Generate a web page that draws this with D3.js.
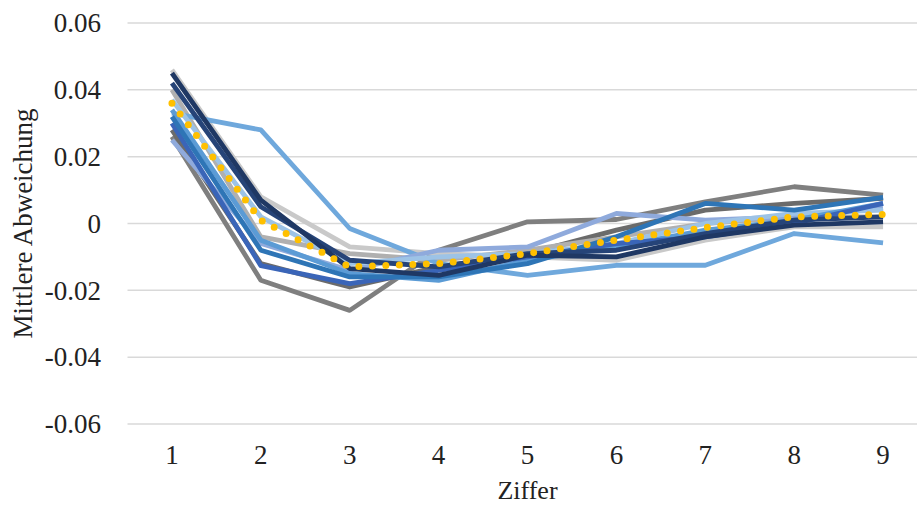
<!DOCTYPE html>
<html>
<head>
<meta charset="utf-8">
<script src="https://cdn.jsdelivr.net/npm/d3@7"></script>
<style>
  html, body { margin: 0; padding: 0; background: #fff; }
  svg { display: block; }
  text { font-family: "Liberation Serif", "Times New Roman", serif; fill: #222; }
</style>
</head>
<body>
<svg id="chart" width="917" height="506"></svg>
<script>
// Digits on the x axis
const digits = [1, 2, 3, 4, 5, 6, 7, 8, 9];

// y-axis ticks
const yTicks = [-0.06, -0.04, -0.02, 0, 0.02, 0.04, 0.06];

// Mean deviation per digit for each sample
const sNavyA   = [0.045, 0.007, -0.0135, -0.0155, -0.0095, -0.010, -0.004, -0.0005, 0.0005];
const sNavyB   = [0.042, 0.005, -0.011, -0.013, -0.009, -0.008, -0.003, 0.001, 0.002];
const sGrayLt  = [0.046, 0.008, -0.007, -0.009, -0.010, -0.011, -0.005, -0.001, -0.001];
const sGrayMd  = [0.040, -0.004, -0.009, -0.011, -0.008, -0.004, 0.000, 0.002, 0.002];
const sGrayDk  = [0.026, -0.017, -0.026, -0.008, 0.0005, 0.0012, 0.0065, 0.011, 0.0085];
const sGrayXd  = [0.028, -0.012, -0.019, -0.013, -0.009, -0.002, 0.004, 0.006, 0.0075];
const sBlue    = [0.032, -0.008, -0.016, -0.016, -0.012, -0.004, 0.006, 0.004, 0.0078];
const sRoyal   = [0.030, -0.0126, -0.018, -0.014, -0.010, -0.006, -0.004, 0.000, 0.006];
const sSky     = [0.037, 0.002, -0.012, -0.010, -0.009, -0.006, 0.000, 0.003, 0.004];
const sPeri    = [0.025, -0.006, -0.014, -0.008, -0.007, 0.003, 0.001, 0.002, 0.0045];
const sSteel   = [0.034, -0.005, -0.015, -0.017, -0.011, -0.007, -0.002, 0.001, 0.006];
const sAzure   = [0.033, 0.028, -0.0015, -0.012, -0.0155, -0.0125, -0.0125, -0.003, -0.0058];

// Average across samples (dotted)
const average  = [0.036, 0.001, -0.013, -0.012, -0.009, -0.005, -0.0012, 0.002, 0.0027];

const series = [
  { values: sGrayDk, color: "#7f7f7f" },
  { values: sGrayXd, color: "#6b6b6b" },
  { values: sGrayLt, color: "#c9c9c9" },
  { values: sGrayMd, color: "#b0b0b0" },
  { values: sAzure,  color: "#6fa8dc" },
  { values: sPeri,   color: "#8faadc" },
  { values: sSky,    color: "#9dc3e6" },
  { values: sSteel,  color: "#5b9bd5" },
  { values: sRoyal,  color: "#3a65b8" },
  { values: sBlue,   color: "#2e75b6" },
  { values: sNavyB,  color: "#264478" },
  { values: sNavyA,  color: "#1f3864" }
];

const svg = d3.select("#chart");
const margin = { left: 127.5, right: -10.5, top: 23, bottom: 82 };
const W = 917, H = 506;

const x = d3.scaleBand()
  .domain(digits)
  .range([margin.left, W - margin.right])
  .paddingInner(0).paddingOuter(0);

const y = d3.scaleLinear()
  .domain([-0.06, 0.06])
  .range([H - margin.bottom, margin.top]);

const cx = d => x(d) + x.bandwidth() / 2;

// Horizontal gridlines
svg.append("g")
  .selectAll("line")
  .data(yTicks)
  .join("line")
  .attr("x1", margin.left)
  .attr("x2", W - margin.right)
  .attr("y1", d => y(d))
  .attr("y2", d => y(d))
  .attr("stroke", "#d9d9d9")
  .attr("stroke-width", 1.5);

// y tick labels (plain hyphen for negatives)
const fmt = d => d === 0 ? "0" : d3.format(".2f")(d).replace("\u2212", "-");
svg.append("g")
  .selectAll("text")
  .data(yTicks)
  .join("text")
  .attr("x", 101)
  .attr("y", d => y(d))
  .attr("dy", "0.34em")
  .attr("text-anchor", "end")
  .attr("font-size", 27)
  .text(fmt);

// x tick labels
svg.append("g")
  .selectAll("text")
  .data(digits)
  .join("text")
  .attr("x", d => cx(d))
  .attr("y", 464)
  .attr("text-anchor", "middle")
  .attr("font-size", 27)
  .text(d => d);

// Axis titles
svg.append("text")
  .attr("x", cx(5))
  .attr("y", 499)
  .attr("text-anchor", "middle")
  .attr("font-size", 26)
  .text("Ziffer");

svg.append("text")
  .attr("transform", `translate(32, ${y(0)}) rotate(-90)`)
  .attr("text-anchor", "middle")
  .attr("font-size", 27)
  .text("Mittlere Abweichung");

const line = d3.line()
  .x((d, i) => cx(digits[i]))
  .y(d => y(d));

svg.append("g")
  .selectAll("path")
  .data(series)
  .join("path")
  .attr("d", d => line(d.values))
  .attr("fill", "none")
  .attr("stroke", d => d.color)
  .attr("stroke-width", 4.8)
  .attr("stroke-linejoin", "round");

// Dotted average line
svg.append("path")
  .attr("d", line(average))
  .attr("fill", "none")
  .attr("stroke", "#ffc000")
  .attr("stroke-width", 7)
  .attr("stroke-linecap", "round")
  .attr("stroke-dasharray", "0 13.5");
</script>
</body>
</html>
